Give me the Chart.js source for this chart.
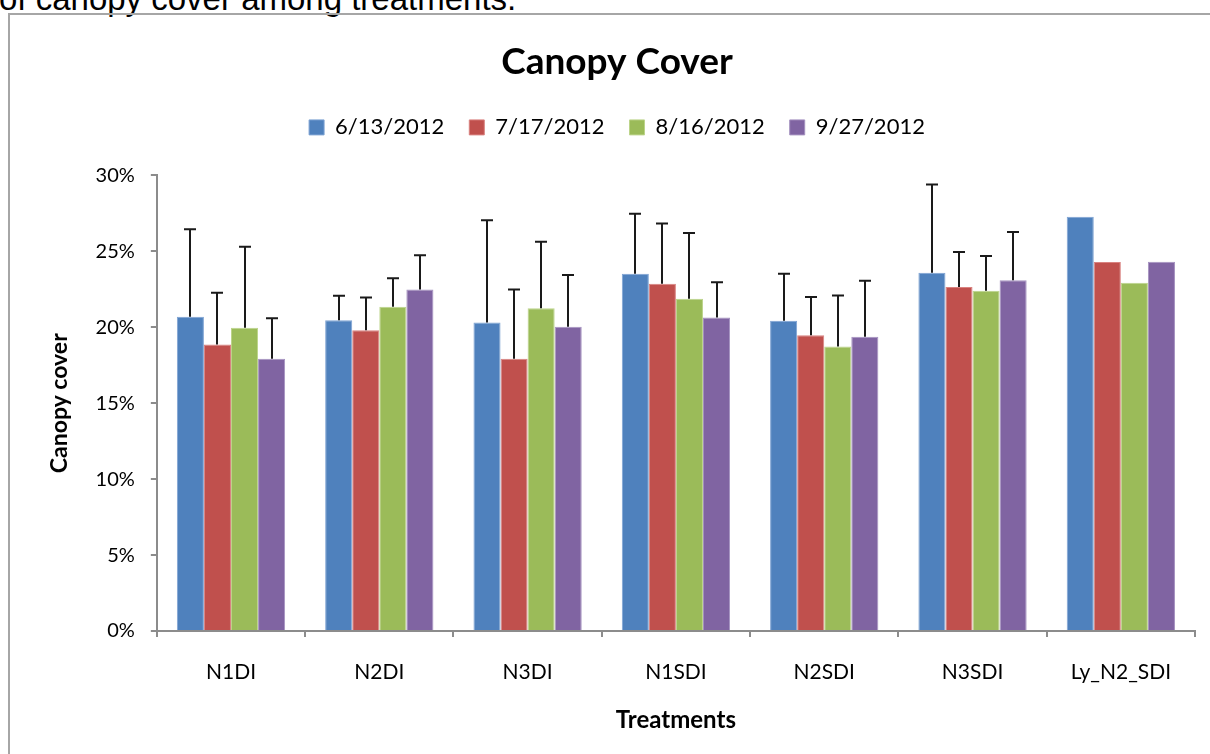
<!DOCTYPE html>
<html>
<head>
<meta charset="utf-8">
<script src="https://cdn.jsdelivr.net/npm/chart.js@4"></script>
<style>
  html, body { margin: 0; padding: 0; background: #fff; overflow: hidden; }
  body { width: 1210px; height: 754px; position: relative; }
  #caption {
    position: absolute; left: -1px; top: -17px;
    font-family: "Liberation Sans", Arial, sans-serif; font-size: 33px; line-height: 32px; color: #000;
    white-space: nowrap;
  }
  #box {
    position: absolute; left: 8px; top: 13px; width: 1300px; height: 800px;
    border: 2px solid #a6a6a6;
  }
  #wrap { position: absolute; left: 0; top: 0; width: 1200px; height: 739px; }
</style>
</head>
<body>
<div id="caption">of canopy cover among treatments.</div>
<div id="box">
  <div id="wrap"><canvas id="chart"></canvas></div>
</div>
<script>
const categories = ['N1DI', 'N2DI', 'N3DI', 'N1SDI', 'N2SDI', 'N3SDI', 'Ly_N2_SDI'];
const seriesNames = ['6/13/2012', '7/17/2012', '8/16/2012', '9/27/2012'];

// canopy cover, percent
const jun13 = [20.69, 20.47, 20.32, 23.52, 20.43, 23.59, 27.28];
const jul17 = [18.87, 19.80, 17.93, 22.87, 19.47, 22.65, 24.29];
const aug16 = [19.97, 21.35, 21.26, 21.88, 18.74, 22.40, 22.93];
const sep27 = [17.93, 22.49, 20.03, 20.65, 19.38, 23.10, 24.31];

// upper error (only the + side is drawn), percent
const jun13Err = [5.76, 1.61, 6.72, 3.95, 3.09, 5.81, null];
const jul17Err = [3.40, 2.16, 4.56, 3.97, 2.52, 2.30, null];
const aug16Err = [5.33, 1.87, 4.37, 4.32, 3.36, 2.29, null];
const sep27Err = [2.66, 2.26, 3.41, 2.31, 3.68, 3.17, null];

const yTicks = [0, 5, 10, 15, 20, 25, 30];

const colors = ['#4f81bd', '#c0504d', '#9bbb59', '#8064a2'];
const edges = ['#7ea3d3', '#d98280', '#bcd48a', '#a592c0'];

const values = [jun13, jul17, aug16, sep27];
const errors = [jun13Err, jul17Err, aug16Err, sep27Err];

const FONT = 'Lato, "Open Sans", sans-serif';

// draws the + error bars with caps
const errorBars = {
  id: 'errorBars',
  afterDatasetsDraw(chart) {
    const ctx = chart.ctx;
    const y = chart.scales.y;
    ctx.save();
    ctx.strokeStyle = '#1a1a1a';
    ctx.lineWidth = 2;
    chart.data.datasets.forEach((ds, i) => {
      const meta = chart.getDatasetMeta(i);
      meta.data.forEach((bar, j) => {
        const err = ds.errors[j];
        if (err == null) return;
        const top = y.getPixelForValue(ds.data[j] + err);
        const x = Math.round(bar.x);
        ctx.beginPath();
        ctx.moveTo(x, bar.y);
        ctx.lineTo(x, top);
        ctx.moveTo(x - 6, top);
        ctx.lineTo(x + 6, top);
        ctx.stroke();
      });
    });
    ctx.restore();
  }
};

// extra room under the legend
const legendGap = {
  id: 'legendGap',
  beforeInit(chart) {
    const fit = chart.legend.fit;
    chart.legend.fit = function () {
      fit.bind(chart.legend)();
      this.height += 27;
    };
  }
};

new Chart(document.getElementById('chart'), {
  type: 'bar',
  data: {
    labels: categories,
    datasets: seriesNames.map((name, i) => ({
      label: name,
      data: values[i],
      errors: errors[i],
      backgroundColor: colors[i],
      borderColor: edges[i],
      borderWidth: 1,
      categoryPercentage: 0.73,
      barPercentage: 1.0
    }))
  },
  options: {
    responsive: true,
    maintainAspectRatio: false,
    animation: false,
    layout: { padding: { left: 29, right: 15, top: 0, bottom: 0 } },
    plugins: {
      title: {
        display: true,
        text: 'Canopy Cover',
        color: '#000',
        font: { family: FONT, size: 37, weight: 'bold' },
        padding: { top: 25, bottom: 7 }
      },
      legend: {
        position: 'top',
        labels: {
          color: '#000',
          font: { family: FONT, size: 22 },
          boxWidth: 15,
          boxHeight: 15,
          padding: 25
        }
      },
      tooltip: { enabled: false }
    },
    scales: {
      x: {
        grid: { drawOnChartArea: false, color: '#8c8c8c', tickLength: 6, lineWidth: 2 },
        border: { color: '#8c8c8c', width: 2 },
        ticks: { color: '#000', font: { family: FONT, size: 21, lineHeight: 1.0 }, padding: 25, maxRotation: 0 },
        title: {
          display: true,
          text: 'Treatments',
          color: '#000',
          font: { family: FONT, size: 24, weight: 'bold', lineHeight: 1.04 },
          padding: { top: 0, bottom: 21 }
        }
      },
      y: {
        min: 0,
        max: 30,
        afterBuildTicks(scale) { scale.ticks = yTicks.map(v => ({ value: v })); },
        grid: { drawOnChartArea: false, color: '#8c8c8c', tickLength: 6, lineWidth: 2 },
        border: { color: '#8c8c8c', width: 2 },
        ticks: {
          color: '#000',
          font: { family: FONT, size: 20 },
          padding: 16,
          callback: v => v + '%'
        },
        title: {
          display: true,
          text: 'Canopy cover',
          color: '#000',
          font: { family: FONT, size: 23, weight: 'bold' },
          padding: { top: 7, bottom: 6 }
        }
      }
    }
  },
  plugins: [errorBars, legendGap]
});
</script>
</body>
</html>
